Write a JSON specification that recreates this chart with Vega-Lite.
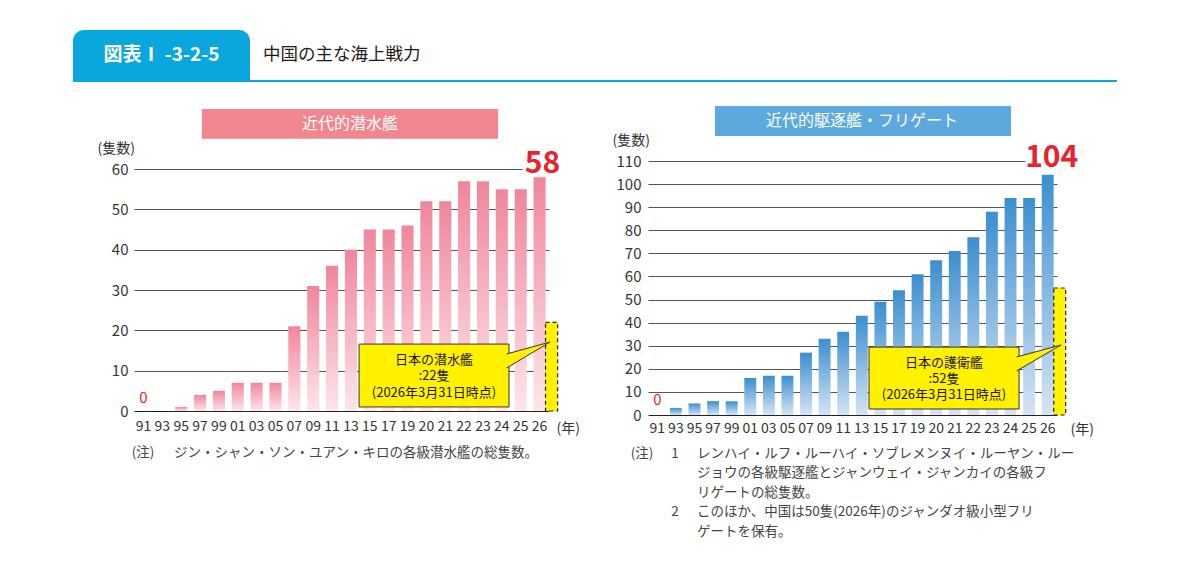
{
  "$schema": "https://vega.github.io/schema/vega-lite/v6.json",
  "description": "中国の主な海上戦力",
  "background": "white",
  "padding": {"left": 73, "top": 30, "right": 5, "bottom": 5},
  "config": {
    "font": "Noto Sans CJK JP",
    "view": {"stroke": null}
  },
  "datasets": {
    "subs": [
      {"year": "91", "country": "中国", "count": 0},
      {"year": "93", "country": "中国", "count": 0},
      {"year": "95", "country": "中国", "count": 1},
      {"year": "97", "country": "中国", "count": 4},
      {"year": "99", "country": "中国", "count": 5},
      {"year": "01", "country": "中国", "count": 7},
      {"year": "03", "country": "中国", "count": 7},
      {"year": "05", "country": "中国", "count": 7},
      {"year": "07", "country": "中国", "count": 21},
      {"year": "09", "country": "中国", "count": 31},
      {"year": "11", "country": "中国", "count": 36},
      {"year": "13", "country": "中国", "count": 40},
      {"year": "15", "country": "中国", "count": 45},
      {"year": "17", "country": "中国", "count": 45},
      {"year": "19", "country": "中国", "count": 46},
      {"year": "20", "country": "中国", "count": 52},
      {"year": "21", "country": "中国", "count": 52},
      {"year": "22", "country": "中国", "count": 57},
      {"year": "23", "country": "中国", "count": 57},
      {"year": "24", "country": "中国", "count": 55},
      {"year": "25", "country": "中国", "count": 55},
      {"year": "26", "country": "中国", "count": 58},
      {"year": "26", "country": "日本", "count": 22}
    ],
    "ships": [
      {"year": "91", "country": "中国", "count": 0},
      {"year": "93", "country": "中国", "count": 3},
      {"year": "95", "country": "中国", "count": 5},
      {"year": "97", "country": "中国", "count": 6},
      {"year": "99", "country": "中国", "count": 6},
      {"year": "01", "country": "中国", "count": 16},
      {"year": "03", "country": "中国", "count": 17},
      {"year": "05", "country": "中国", "count": 17},
      {"year": "07", "country": "中国", "count": 27},
      {"year": "09", "country": "中国", "count": 33},
      {"year": "11", "country": "中国", "count": 36},
      {"year": "13", "country": "中国", "count": 43},
      {"year": "15", "country": "中国", "count": 49},
      {"year": "17", "country": "中国", "count": 54},
      {"year": "19", "country": "中国", "count": 61},
      {"year": "20", "country": "中国", "count": 67},
      {"year": "21", "country": "中国", "count": 71},
      {"year": "22", "country": "中国", "count": 77},
      {"year": "23", "country": "中国", "count": 88},
      {"year": "24", "country": "中国", "count": 94},
      {"year": "25", "country": "中国", "count": 94},
      {"year": "26", "country": "中国", "count": 104},
      {"year": "26", "country": "日本", "count": 55}
    ]
  },
  "spacing": 24,
  "vconcat": [
    {
      "spacing": 0,
      "vconcat": [
        {
          "bounds": "flush",
          "spacing": 0,
          "hconcat": [
            {
              "width": 177,
              "height": 50,
              "data": {"values": [{}]},
              "layer": [
                {"mark": {"type": "rect", "fill": "#0AA6DE", "cornerRadiusTopLeft": 11, "cornerRadiusTopRight": 11}, "encoding": {}},
                {"mark": {"type": "text", "fontSize": 19, "fontWeight": "bold", "fill": "white"}, "encoding": {"text": {"value": "図表Ⅰ -3-2-5"}}}
              ]
            },
            {
              "width": 26,
              "height": 50,
              "data": {"values": [{}]},
              "mark": {"type": "text", "align": "left", "fontSize": 17.5, "fill": "#231815"},
              "encoding": {"text": {"value": "中国の主な海上戦力"}}
            }
          ]
        },
        {
          "width": 1044,
          "height": 2,
          "data": {"values": [{}]},
          "mark": {"type": "rect", "fill": "#0AA6DE"},
          "encoding": {}
        }
      ]
    },
    {
      "bounds": "flush",
      "spacing": 0,
      "hconcat": [
        {
          "width": 61,
          "height": 10,
          "data": {"values": [{}]},
          "mark": {"type": "rect", "fill": "transparent"},
          "encoding": {}
        },
        {
          "bounds": "flush",
          "spacing": 83,
          "hconcat": [
            {
              "width": 431,
              "height": 250,
              "resolve": {"scale": {"x": "independent", "y": "independent"}},
              "layer": [
                {
                  "data": {"name": "subs"},
                  "encoding": {
                    "x": {
                      "field": "year", "type": "ordinal",
                      "scale": {"domain": ["91","93","95","97","99","01","03","05","07","09","11","13","15","17","19","20","21","22","23","24","25","26"], "rangeMax": 415, "paddingInner": 0.36, "paddingOuter": 0.18},
                      "axis": {"title": "(年)", "titleAngle": 0, "titleAlign": "left", "titleBaseline": "middle", "titleX": 422, "titleY": 17, "titleFontSize": 14, "titleFontWeight": "normal", "titleColor": "#333", "labelAngle": 0, "labelFontSize": 14, "labelColor": "#333", "labelPadding": 8, "labelOverlap": false, "ticks": false, "domain": false, "grid": false}
                    },
                    "y": {
                      "field": "count", "type": "quantitative",
                      "scale": {"domain": [0, 62], "nice": false},
                      "axis": {"values": [0,10,20,30,40,50,60], "title": "(隻数)", "titleAngle": 0, "titleAlign": "left", "titleBaseline": "middle", "titleX": -37, "titleY": -13, "titleFontSize": 14, "titleFontWeight": "normal", "titleColor": "#333", "labelFontSize": 15, "labelColor": "#333", "labelPadding": 6, "ticks": false, "domain": false, "grid": true, "gridColor": {"condition": {"test": "datum.value === 0", "value": "#222"}, "value": "#555"}, "gridWidth": 1}
                    }
                  },
                  "layer": [
                    {
                      "transform": [{"filter": "datum.country === '中国'"}],
                      "mark": {"type": "bar", "fill": {"gradient": "linear", "x1": 0, "y1": 0, "x2": 0, "y2": 1, "stops": [{"offset": 0, "color": "#F0869B"}, {"offset": 1, "color": "#FDE6EB"}]}}
                    },
                    {
                      "transform": [{"filter": "datum.country === '日本'"}],
                      "mark": {"type": "bar", "fill": "#FFF100", "stroke": "#222", "strokeWidth": 1.2, "strokeDash": [4, 3], "xOffset": 12}
                    },
                    {
                      "transform": [{"filter": "datum.country === '中国' && datum.year === '91'"}],
                      "mark": {"type": "text", "fontSize": 15, "fill": "#E8232D", "baseline": "bottom", "dy": -5},
                      "encoding": {"text": {"field": "count", "type": "quantitative"}}
                    },
                    {
                      "transform": [{"filter": "datum.country === '中国' && datum.year === '26'"}],
                      "mark": {"type": "text", "fontSize": 30, "fontWeight": "bold", "fill": "white", "stroke": "white", "strokeWidth": 5, "baseline": "alphabetic", "dy": -4, "dx": 3},
                      "encoding": {"text": {"field": "count", "type": "quantitative"}}
                    },
                    {
                      "transform": [{"filter": "datum.country === '中国' && datum.year === '26'"}],
                      "mark": {"type": "text", "fontSize": 30, "fontWeight": "bold", "fill": "#E8232D", "baseline": "alphabetic", "dy": -4, "dx": 3},
                      "encoding": {"text": {"field": "count", "type": "quantitative"}}
                    }
                  ]
                },
                {
                  "data": {"values": [{}]},
                  "layer": [
                    {
                      "mark": {"type": "rect", "fill": "#F2868F"},
                      "encoding": {
                        "x": {"datum": 3.6, "type": "quantitative", "scale": {"domain": [0, 22], "rangeMax": 415, "nice": false}, "axis": null},
                        "x2": {"datum": 19.3},
                        "y": {"datum": 74.9, "type": "quantitative", "scale": {"domain": [0, 62], "nice": false}, "axis": null},
                        "y2": {"datum": 67.5}
                      }
                    },
                    {
                      "mark": {"type": "text", "fontSize": 16, "fill": "white", "baseline": "middle"},
                      "encoding": {
                        "x": {"datum": 11.45, "type": "quantitative", "scale": {"domain": [0, 22], "rangeMax": 415, "nice": false}, "axis": null},
                        "y": {"datum": 71.2, "type": "quantitative", "scale": {"domain": [0, 62], "nice": false}, "axis": null},
                        "text": {"value": "近代的潜水艦"}
                      }
                    },
                    {
                      "mark": {"type": "rect", "fill": "#FFF100", "stroke": "#333", "strokeWidth": 1},
                      "encoding": {
                        "x": {"datum": 11.93, "type": "quantitative", "scale": {"domain": [0, 22], "rangeMax": 415, "nice": false}, "axis": null},
                        "x2": {"datum": 19.88},
                        "y": {"datum": 16.6, "type": "quantitative", "scale": {"domain": [0, 62], "nice": false}, "axis": null},
                        "y2": {"datum": 1.0}
                      }
                    },
                    {
                      "mark": {"type": "point", "shape": "M -1.12 -0.049 L 1 -0.634 L -1.12 0.634", "size": 1681, "filled": true, "fill": "#FFF100", "stroke": "#333", "strokeWidth": 1, "opacity": 1},
                      "encoding": {
                        "x": {"datum": 20.97, "type": "quantitative", "scale": {"domain": [0, 22], "rangeMax": 415, "nice": false}, "axis": null},
                        "y": {"datum": 13.89, "type": "quantitative", "scale": {"domain": [0, 62], "nice": false}, "axis": null}
                      }
                    },
                    {
                      "mark": {"type": "text", "fontSize": 13, "lineHeight": 16.5, "baseline": "middle", "fill": "#231815"},
                      "encoding": {
                        "x": {"datum": 15.9, "type": "quantitative", "scale": {"domain": [0, 22], "rangeMax": 415, "nice": false}, "axis": null},
                        "y": {"datum": 12.65, "type": "quantitative", "scale": {"domain": [0, 62], "nice": false}, "axis": null},
                        "text": {"value": ["日本の潜水艦", ":22隻", "(2026年3月31日時点)"]}
                      }
                    },
                    {
                      "mark": {"type": "text", "fontSize": 13.5, "align": "left", "baseline": "top", "fill": "#444"},
                      "encoding": {
                        "x": {"datum": -0.12, "type": "quantitative", "scale": {"domain": [0, 22], "rangeMax": 415, "nice": false}, "axis": null},
                        "y": {"datum": -8.68, "type": "quantitative", "scale": {"domain": [0, 62], "nice": false}, "axis": null},
                        "text": {"value": "(注)"}
                      }
                    },
                    {
                      "mark": {"type": "text", "fontSize": 13.5, "align": "left", "baseline": "top", "fill": "#444"},
                      "encoding": {
                        "x": {"datum": 2.12, "type": "quantitative", "scale": {"domain": [0, 22], "rangeMax": 415, "nice": false}, "axis": null},
                        "y": {"datum": -8.68, "type": "quantitative", "scale": {"domain": [0, 62], "nice": false}, "axis": null},
                        "text": {"value": "ジン・シャン・ソン・ユアン・キロの各級潜水艦の総隻数。"}
                      }
                    }
                  ]
                }
              ]
            },
            {
              "width": 430,
              "height": 254,
              "resolve": {"scale": {"x": "independent", "y": "independent"}},
              "layer": [
                {
                  "data": {"name": "ships"},
                  "encoding": {
                    "x": {
                      "field": "year", "type": "ordinal",
                      "scale": {"domain": ["91","93","95","97","99","01","03","05","07","09","11","13","15","17","19","20","21","22","23","24","25","26"], "rangeMax": 409, "paddingInner": 0.36, "paddingOuter": 0.18},
                      "axis": {"title": "(年)", "titleAngle": 0, "titleAlign": "left", "titleBaseline": "middle", "titleX": 422, "titleY": 14, "titleFontSize": 14, "titleFontWeight": "normal", "titleColor": "#333", "labelAngle": 0, "labelFontSize": 14, "labelColor": "#333", "labelPadding": 6, "labelOverlap": false, "ticks": false, "domain": false, "grid": false}
                    },
                    "y": {
                      "field": "count", "type": "quantitative",
                      "scale": {"domain": [0, 110], "nice": false},
                      "axis": {"values": [0,10,20,30,40,50,60,70,80,90,100,110], "title": "(隻数)", "titleAngle": 0, "titleAlign": "left", "titleBaseline": "middle", "titleX": -36, "titleY": -21, "titleFontSize": 14, "titleFontWeight": "normal", "titleColor": "#333", "labelFontSize": 15, "labelColor": "#333", "labelPadding": 7, "ticks": false, "domain": false, "grid": true, "gridColor": {"condition": {"test": "datum.value === 0", "value": "#222"}, "value": "#555"}, "gridWidth": 1}
                    }
                  },
                  "layer": [
                    {
                      "transform": [{"filter": "datum.country === '中国'"}],
                      "mark": {"type": "bar", "fill": {"gradient": "linear", "x1": 0, "y1": 0, "x2": 0, "y2": 1, "stops": [{"offset": 0, "color": "#3B8FD0"}, {"offset": 1, "color": "#D6E4F4"}]}}
                    },
                    {
                      "transform": [{"filter": "datum.country === '日本'"}],
                      "mark": {"type": "bar", "fill": "#FFF100", "stroke": "#222", "strokeWidth": 1.2, "strokeDash": [4, 3], "xOffset": 12}
                    },
                    {
                      "transform": [{"filter": "datum.country === '中国' && datum.year === '91'"}],
                      "mark": {"type": "text", "fontSize": 15, "fill": "#E8232D", "baseline": "bottom", "dy": -7},
                      "encoding": {"text": {"field": "count", "type": "quantitative"}}
                    },
                    {
                      "transform": [{"filter": "datum.country === '中国' && datum.year === '26'"}],
                      "mark": {"type": "text", "fontSize": 30, "fontWeight": "bold", "fill": "white", "stroke": "white", "strokeWidth": 5, "baseline": "alphabetic", "dy": -8, "dx": 4},
                      "encoding": {"text": {"field": "count", "type": "quantitative"}}
                    },
                    {
                      "transform": [{"filter": "datum.country === '中国' && datum.year === '26'"}],
                      "mark": {"type": "text", "fontSize": 30, "fontWeight": "bold", "fill": "#E8232D", "baseline": "alphabetic", "dy": -8, "dx": 4},
                      "encoding": {"text": {"field": "count", "type": "quantitative"}}
                    }
                  ]
                },
                {
                  "data": {"values": [{}]},
                  "layer": [
                    {
                      "mark": {"type": "rect", "fill": "#5DA8DC"},
                      "encoding": {
                        "x": {"datum": 3.6, "type": "quantitative", "scale": {"domain": [0, 22], "rangeMax": 409, "nice": false}, "axis": null},
                        "x2": {"datum": 19.53},
                        "y": {"datum": 133.8, "type": "quantitative", "scale": {"domain": [0, 110], "nice": false}, "axis": null},
                        "y2": {"datum": 120.8}
                      }
                    },
                    {
                      "mark": {"type": "text", "fontSize": 16, "fill": "white", "baseline": "middle"},
                      "encoding": {
                        "x": {"datum": 11.51, "type": "quantitative", "scale": {"domain": [0, 22], "rangeMax": 409, "nice": false}, "axis": null},
                        "y": {"datum": 127.3, "type": "quantitative", "scale": {"domain": [0, 110], "nice": false}, "axis": null},
                        "text": {"value": "近代的駆逐艦・フリゲート"}
                      }
                    },
                    {
                      "mark": {"type": "rect", "fill": "#FFF100", "stroke": "#333", "strokeWidth": 1},
                      "encoding": {
                        "x": {"datum": 11.89, "type": "quantitative", "scale": {"domain": [0, 22], "rangeMax": 409, "nice": false}, "axis": null},
                        "x2": {"datum": 19.96},
                        "y": {"datum": 29.4, "type": "quantitative", "scale": {"domain": [0, 110], "nice": false}, "axis": null},
                        "y2": {"datum": 2.6}
                      }
                    },
                    {
                      "mark": {"type": "point", "shape": "M -1.12 -0.048 L 1 -0.619 L -1.12 0.619", "size": 1764, "filled": true, "fill": "#FFF100", "stroke": "#333", "strokeWidth": 1, "opacity": 1},
                      "encoding": {
                        "x": {"datum": 21.09, "type": "quantitative", "scale": {"domain": [0, 22], "rangeMax": 409, "nice": false}, "axis": null},
                        "y": {"datum": 24.7, "type": "quantitative", "scale": {"domain": [0, 110], "nice": false}, "axis": null}
                      }
                    },
                    {
                      "mark": {"type": "text", "fontSize": 13, "lineHeight": 16, "baseline": "middle", "fill": "#231815"},
                      "encoding": {
                        "x": {"datum": 15.92, "type": "quantitative", "scale": {"domain": [0, 22], "rangeMax": 409, "nice": false}, "axis": null},
                        "y": {"datum": 22.5, "type": "quantitative", "scale": {"domain": [0, 110], "nice": false}, "axis": null},
                        "text": {"value": ["日本の護衛艦", ":52隻", "(2026年3月31日時点)"]}
                      }
                    },
                    {
                      "mark": {"type": "text", "fontSize": 13.5, "align": "left", "baseline": "top", "fill": "#444"},
                      "encoding": {
                        "x": {"datum": -0.93, "type": "quantitative", "scale": {"domain": [0, 22], "rangeMax": 409, "nice": false}, "axis": null},
                        "y": {"datum": -13.86, "type": "quantitative", "scale": {"domain": [0, 110], "nice": false}, "axis": null},
                        "text": {"value": "(注)"}
                      }
                    },
                    {
                      "mark": {"type": "text", "fontSize": 13.5, "align": "center", "baseline": "top", "fill": "#444"},
                      "encoding": {
                        "x": {"datum": 1.45, "type": "quantitative", "scale": {"domain": [0, 22], "rangeMax": 409, "nice": false}, "axis": null},
                        "y": {"datum": -13.86, "type": "quantitative", "scale": {"domain": [0, 110], "nice": false}, "axis": null},
                        "text": {"value": "1"}
                      }
                    },
                    {
                      "mark": {"type": "text", "fontSize": 13.5, "align": "center", "baseline": "top", "fill": "#444"},
                      "encoding": {
                        "x": {"datum": 1.45, "type": "quantitative", "scale": {"domain": [0, 22], "rangeMax": 409, "nice": false}, "axis": null},
                        "y": {"datum": -39.06, "type": "quantitative", "scale": {"domain": [0, 110], "nice": false}, "axis": null},
                        "text": {"value": "2"}
                      }
                    },
                    {
                      "mark": {"type": "text", "fontSize": 13.5, "align": "left", "baseline": "top", "lineHeight": 19.4, "fill": "#444"},
                      "encoding": {
                        "x": {"datum": 2.64, "type": "quantitative", "scale": {"domain": [0, 22], "rangeMax": 409, "nice": false}, "axis": null},
                        "y": {"datum": -13.86, "type": "quantitative", "scale": {"domain": [0, 110], "nice": false}, "axis": null},
                        "text": {"value": ["レンハイ・ルフ・ルーハイ・ソブレメンヌイ・ルーヤン・ルー", "ジョウの各級駆逐艦とジャンウェイ・ジャンカイの各級フ", "リゲートの総隻数。", "このほか、中国は50隻(2026年)のジャンダオ級小型フリ", "ゲートを保有。"]}
                      }
                    }
                  ]
                }
              ]
            }
          ]
        }
      ]
    }
  ]
}
